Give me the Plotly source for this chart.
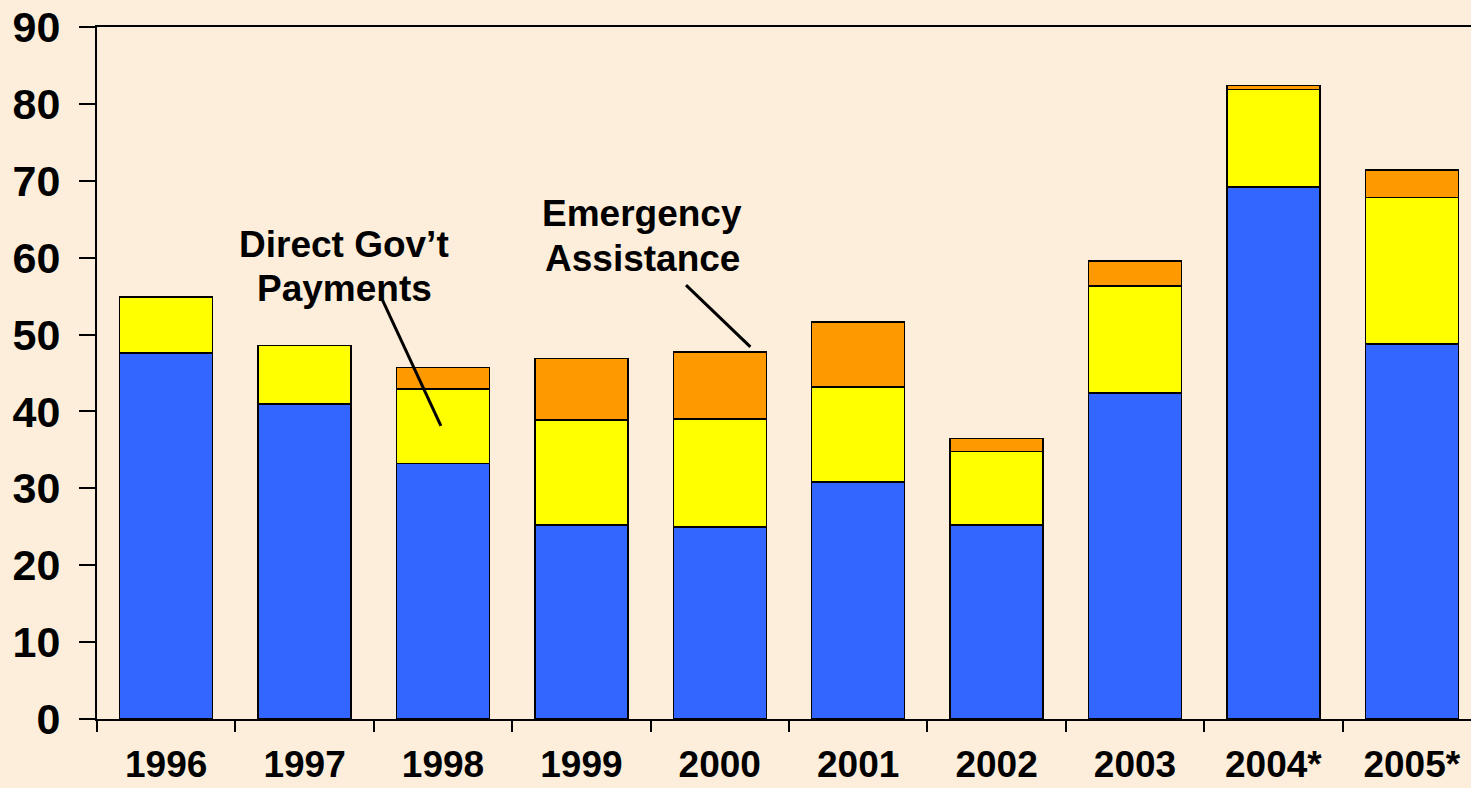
import plotly.graph_objects as go

years = ["1996", "1997", "1998", "1999", "2000", "2001", "2002", "2003", "2004*", "2005*"]
market_income = [47.6, 40.95, 33.2, 25.2, 24.95, 30.85, 25.2, 42.4, 69.2, 48.75]
direct_payments = [7.3, 7.6, 9.7, 13.7, 14.1, 12.3, 9.6, 13.9, 12.7, 19.1]
emergency_assist = [None, None, 2.8, 8.0, 8.7, 8.5, 1.65, 3.25, 0.5, 3.55]
y_ticks = [0, 10, 20, 30, 40, 50, 60, 70, 80, 90]

FONT = "Arial, 'Liberation Sans', sans-serif"
BG = "#FCEEDA"

fig = go.Figure()
for name, vals, col in [
    ("Market", market_income, "#3366FF"),
    ("Direct Gov't Payments", direct_payments, "#FFFF00"),
    ("Emergency Assistance", emergency_assist, "#FF9900"),
]:
    fig.add_trace(go.Bar(
        x=years, y=vals, name=name,
        marker=dict(color=col, line=dict(color="#000000", width=1.5)),
        hoverinfo="x+y+name",
    ))

fig.update_layout(
    barmode="stack",
    bargap=0.328,
    width=1471, height=788,
    margin=dict(l=97, r=0, t=27, b=69, pad=0),
    paper_bgcolor=BG, plot_bgcolor=BG,
    showlegend=False,
    font=dict(family=FONT, size=37, color="#000000", weight="bold"),
    xaxis=dict(
        type="category",
        range=[-0.5, 9.428],
        automargin=False,
        showline=True, linecolor="#000000", linewidth=2, mirror=True,
        ticks="outside", tickson="boundaries", ticklen=11, tickwidth=1.5, tickcolor="#000000",
        showgrid=False, zeroline=False,
        tickfont=dict(family=FONT, size=37, color="#000000", weight="bold"),
        ticklabelstandoff=12,
    ),
    yaxis=dict(
        range=[0, 90],
        automargin=False,
        tickvals=y_ticks,
        showline=True, linecolor="#000000", linewidth=2,
        ticks="outside", ticklen=16, tickwidth=2, tickcolor="#000000",
        showgrid=False, zeroline=False,
        tickfont=dict(family=FONT, size=43, color="#000000", weight="bold"),
        ticklabelstandoff=10,
    ),
)

labels = [
    ("Direct Gov’t", 1.285, 61.75),
    ("Payments", 1.285, 56.03),
    ("Emergency", 3.441, 65.78),
    ("Assistance", 3.441, 59.93),
]
for txt, ax_, ay_ in labels:
    fig.add_annotation(x=ax_, y=ay_, xref="x", yref="y", text=txt, showarrow=False,
                       xanchor="center", yanchor="middle",
                       font=dict(family=FONT, size=37, color="#000000", weight="bold"))

leaders = [
    (1.563, 54.47, 1.985, 38.13),
    (3.756, 56.42, 4.221, 48.40),
]
for x0, y0, x1, y1 in leaders:
    fig.add_shape(type="line", xref="x", yref="y", x0=x0, y0=y0, x1=x1, y1=y1,
                  line=dict(color="#000000", width=3))

fig.write_html("out.html")
